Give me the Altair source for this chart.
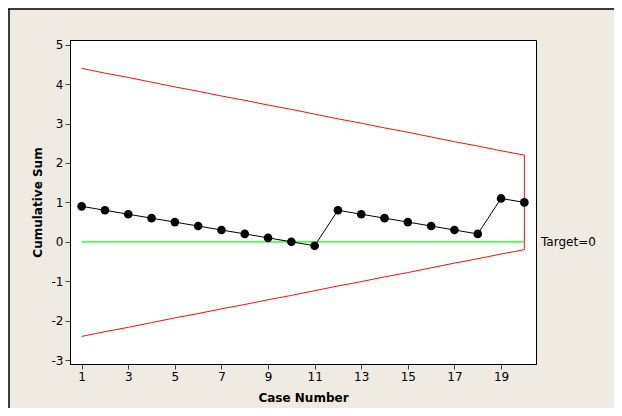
import altair as alt
import pandas as pd

cases = list(range(1, 21))
cusum = [0.9, 0.8, 0.7, 0.6, 0.5, 0.4, 0.3, 0.2, 0.1, 0.0,
         -0.1, 0.8, 0.7, 0.6, 0.5, 0.4, 0.3, 0.2, 1.1, 1.0]
upper = [4.40, 4.28, 4.17, 4.05, 3.93, 3.82, 3.70, 3.59, 3.47, 3.36,
         3.24, 3.12, 3.01, 2.89, 2.78, 2.66, 2.54, 2.43, 2.31, 2.20]
lower = [-2.40, -2.28, -2.17, -2.05, -1.93, -1.82, -1.70, -1.59, -1.47, -1.36,
         -1.24, -1.12, -1.01, -0.89, -0.78, -0.66, -0.54, -0.43, -0.31, -0.20]
target = 0
target_label = "Target=0"
x_ticks = [1, 3, 5, 7, 9, 11, 13, 15, 17, 19]
y_ticks = [-3, -2, -1, 0, 1, 2, 3, 4, 5]

df = pd.DataFrame({"case": cases, "cusum": cusum, "upper": upper, "lower": lower})
last = df.tail(1)
target_df = pd.DataFrame({"case": [cases[0]], "case2": [cases[-1]], "cusum": [target]})
label_df = pd.DataFrame({"case": [20.5], "cusum": [target], "label": [target_label]})

xs = alt.Scale(domain=[0.5, 20.5], nice=False, zero=False)
ys = alt.Scale(domain=[-3.1, 5.12], nice=False, zero=False)

x_axis = alt.Axis(values=x_ticks, title="Case Number", grid=False, tickSize=5,
                  labelPadding=2, titlePadding=10, labelFlush=False)
y_axis = alt.Axis(values=y_ticks, title="Cumulative Sum", grid=False, tickSize=5,
                  labelPadding=2, titlePadding=7,
                  labelExpr="datum.value < 0 ? '-' + abs(datum.value) : '' + datum.value")

X = alt.X("case:Q", scale=xs, axis=x_axis)

upper_line = alt.Chart(df).mark_line(color="#EE1111", strokeWidth=1).encode(
    x=X, y=alt.Y("upper:Q", scale=ys, axis=y_axis))
lower_line = alt.Chart(df).mark_line(color="#EE1111", strokeWidth=1).encode(
    x=X, y=alt.Y("lower:Q", scale=ys, axis=y_axis))
vert = alt.Chart(last).mark_rule(color="#EE1111", strokeWidth=1).encode(
    x=X, y=alt.Y("lower:Q", scale=ys, axis=y_axis), y2="upper:Q")
target_rule = alt.Chart(target_df).mark_rule(color="#66EE66", strokeWidth=2).encode(
    x=X, x2="case2:Q", y=alt.Y("cusum:Q", scale=ys, axis=y_axis))
cs_line = alt.Chart(df).mark_line(color="black", strokeWidth=1).encode(
    x=X, y=alt.Y("cusum:Q", scale=ys, axis=y_axis))
cs_pts = alt.Chart(df).mark_circle(color="black", size=75, opacity=1).encode(
    x=X, y=alt.Y("cusum:Q", scale=ys, axis=y_axis))
label = alt.Chart(label_df).mark_text(align="left", baseline="middle", dx=5,
                                      font="DejaVu Sans", fontSize=12, color="black").encode(
    x=X, y=alt.Y("cusum:Q", scale=ys, axis=y_axis), text="label:N")

border_top = alt.Chart(label_df).mark_rule(color="black", strokeWidth=1.5).encode(
    x=alt.value(-62), x2=alt.value(544), y=alt.value(-31))
border_left = alt.Chart(label_df).mark_rule(color="black", strokeWidth=1.5).encode(
    x=alt.value(-61), y=alt.value(-31), y2=alt.value(368))

chart = alt.layer(
    upper_line, lower_line, vert, target_rule, cs_line, cs_pts, label,
    border_top, border_left
).properties(
    width=466, height=324,
    autosize=alt.AutoSizeParams(type="none"),
    padding={"left": 62, "top": 32, "right": 78, "bottom": 44},
    background="#EFEBE2",
).configure_view(
    stroke="black", strokeWidth=1, fill="white"
).configure_axis(
    domainColor="black", tickColor="#444444", labelColor="black", titleColor="black",
    labelFont="DejaVu Sans", labelFontSize=12, titleFont="DejaVu Sans",
    titleFontSize=12, titleFontWeight="bold"
)

chart.save("out.html", embed_options={"renderer": "svg", "actions": False})
